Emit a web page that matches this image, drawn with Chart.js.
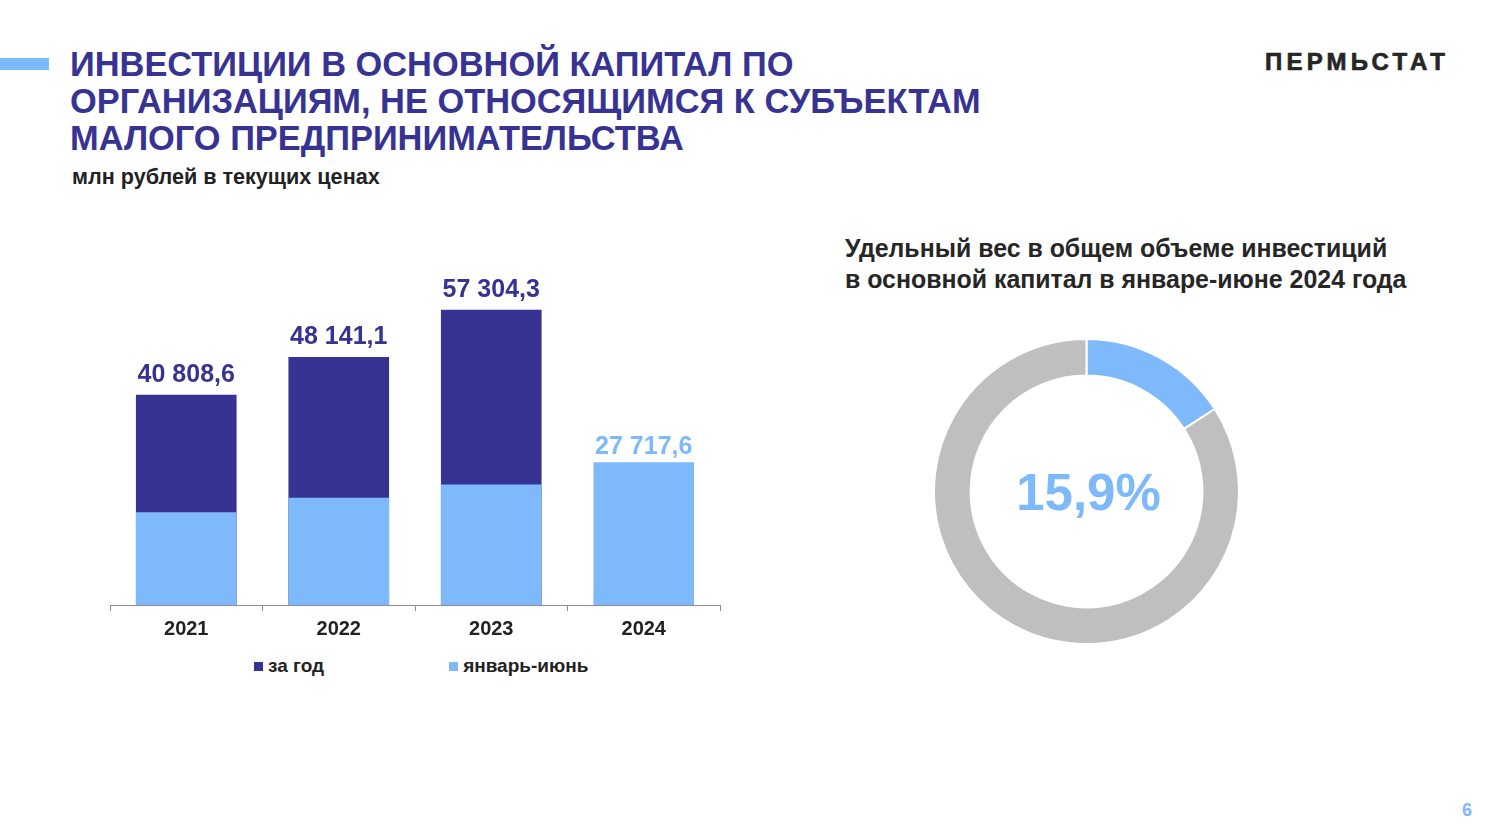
<!DOCTYPE html>
<html lang="ru">
<head>
<meta charset="utf-8">
<title>Инвестиции в основной капитал</title>
<script src="https://cdn.jsdelivr.net/npm/chart.js@4.4.1/dist/chart.umd.min.js"></script>
<style>
  html, body { margin: 0; padding: 0; background: #fff; }
  body { width: 1499px; height: 833px; position: relative; overflow: hidden;
         font-family: "Liberation Sans", Arial, sans-serif; }
  .abs { position: absolute; }
  #dash { left: 0; top: 58px; width: 49px; height: 12px; background: #7ebafb; }
  #title { left: 70px; top: 46px; font-size: 34.4px; line-height: 37px; font-weight: bold; color: #373393; white-space: nowrap; }
  #subtitle { left: 72px; top: 165px; font-size: 21.6px; line-height: 24px; font-weight: bold; color: #222; }
  #logo { left: 1265px; top: 48px; font-size: 24px; line-height: 28px; font-weight: bold; letter-spacing: 4.2px;
          color: #262626; -webkit-text-stroke: 0.7px #262626; }
  #pieTitle { left: 845px; top: 233px; font-size: 24.9px; line-height: 31px; font-weight: bold; color: #262626; white-space: nowrap; }
  #page { left: 1462px; top: 799px; font-size: 18px; line-height: 22px; font-weight: bold; color: #7ebafb; }
  #barBox { left: 108px; top: 260px; width: 614px; height: 387px; }
  #pieBox { left: 933px; top: 338px; width: 307px; height: 307px; }
  #legend { left: 254px; top: 655px; display: flex; font-size: 19px; line-height: 22px; font-weight: bold; color: #222; }
  #legend .item { display: flex; align-items: center; margin-right: 125px; }
  #legend .box { width: 9px; height: 9px; margin-right: 5px; }
</style>
</head>
<body>
<div id="dash" class="abs"></div>
<div id="title" class="abs">ИНВЕСТИЦИИ В ОСНОВНОЙ КАПИТАЛ ПО<br>ОРГАНИЗАЦИЯМ, НЕ ОТНОСЯЩИМСЯ К СУБЪЕКТАМ<br>МАЛОГО ПРЕДПРИНИМАТЕЛЬСТВА</div>
<div id="subtitle" class="abs">млн рублей в текущих ценах</div>
<div id="logo" class="abs">ПЕРМЬСТАТ</div>
<div id="pieTitle" class="abs">Удельный вес в общем объеме инвестиций<br>в основной капитал в январе-июне 2024 года</div>
<div id="barBox" class="abs"><canvas id="barChart"></canvas></div>
<div id="legend" class="abs"></div>
<div id="pieBox" class="abs"><canvas id="pieChart"></canvas></div>
<div id="page" class="abs">6</div>

<script>
// data
const years = ['2021', '2022', '2023', '2024'];
const fullYear = [40808.6, 48141.1, 57304.3, null];     // за год
const janJun = [18000, 20800, 23400, 27717.6];          // январь-июнь
const shareLabels = ['Организации, не относящиеся к МП', 'Прочие'];
const shareValues = [15.9, 84.1];

const DARK = '#373393';
const LIGHT = '#7ebafb';
const GREY = '#bfbfbf';
const FONT = '"Liberation Sans", Arial, sans-serif';

// 40808.6 -> "40 808,6"
function fmt(v) {
    const parts = v.toFixed(1).split('.');
    const int = parts[0].replace(/\B(?=(\d{3})+(?!\d))/g, ' ');
    return int + ',' + parts[1];
}

// value above each column: the tallest bar of that year
const barLabels = {
    id: 'barLabels',
    afterDatasetsDraw(chart) {
        const ctx = chart.ctx;
        ctx.save();
        ctx.font = 'bold 25px ' + FONT;
        ctx.textAlign = 'center';
        ctx.textBaseline = 'bottom';
        years.forEach((y, i) => {
            let dsIndex = 0;
            let value = fullYear[i];
            if (value == null) { dsIndex = 1; value = janJun[i]; }
            const bar = chart.getDatasetMeta(dsIndex).data[i];
            ctx.fillStyle = dsIndex === 0 ? DARK : LIGHT;
            ctx.fillText(fmt(value), bar.x, bar.y - (dsIndex === 0 ? 7 : 3));
        });
        ctx.restore();
    }
};

const barChart = new Chart(document.getElementById('barChart'), {
    type: 'bar',
    data: {
        labels: years,
        datasets: [
            { label: 'за год', data: fullYear, backgroundColor: DARK, order: 1 },
            { label: 'январь-июнь', data: janJun, backgroundColor: LIGHT, order: 0 }
        ]
    },
    options: {
        responsive: true,
        maintainAspectRatio: false,
        animation: false,
        layout: { padding: { left: 2, right: 2, top: 10, bottom: 0 } },
        datasets: { bar: { grouped: false, barPercentage: 0.66, categoryPercentage: 1 } },
        plugins: { legend: { display: false }, tooltip: { enabled: false } },
        scales: {
            x: {
                grid: { display: true, drawOnChartArea: false, drawTicks: true, tickLength: 6, color: '#8c8c8c', offset: true },
                border: { display: true, color: '#8c8c8c', width: 1 },
                ticks: { color: '#222', padding: 6, font: { family: FONT, size: 20, weight: 'bold' } }
            },
            y: { display: false, min: 0, max: 65000 }
        }
    },
    plugins: [barLabels]
});

// legend built from the chart's datasets, in dataset order
const legendEl = document.getElementById('legend');
barChart.data.datasets.forEach(ds => {
    const item = document.createElement('div');
    item.className = 'item';
    item.innerHTML = '<span class="box" style="background:' + ds.backgroundColor + '"></span>' + ds.label;
    legendEl.appendChild(item);
});

// percentage in the middle of the ring
const centerText = {
    id: 'centerText',
    afterDraw(chart) {
        const meta = chart.getDatasetMeta(0).data[0];
        const ctx = chart.ctx;
        ctx.save();
        ctx.font = 'bold 51px ' + FONT;
        ctx.fillStyle = LIGHT;
        ctx.textAlign = 'center';
        ctx.textBaseline = 'middle';
        ctx.fillText(shareValues[0].toFixed(1).replace('.', ',') + '%', meta.x + 2, meta.y + 4);
        ctx.restore();
    }
};

new Chart(document.getElementById('pieChart'), {
    type: 'doughnut',
    data: {
        labels: shareLabels,
        datasets: [{ data: shareValues, backgroundColor: [LIGHT, GREY], borderColor: '#fff', borderWidth: 2 }]
    },
    options: {
        responsive: true,
        maintainAspectRatio: false,
        animation: false,
        cutout: '76%',
        plugins: { legend: { display: false }, tooltip: { enabled: false } }
    },
    plugins: [centerText]
});
</script>
</body>
</html>
